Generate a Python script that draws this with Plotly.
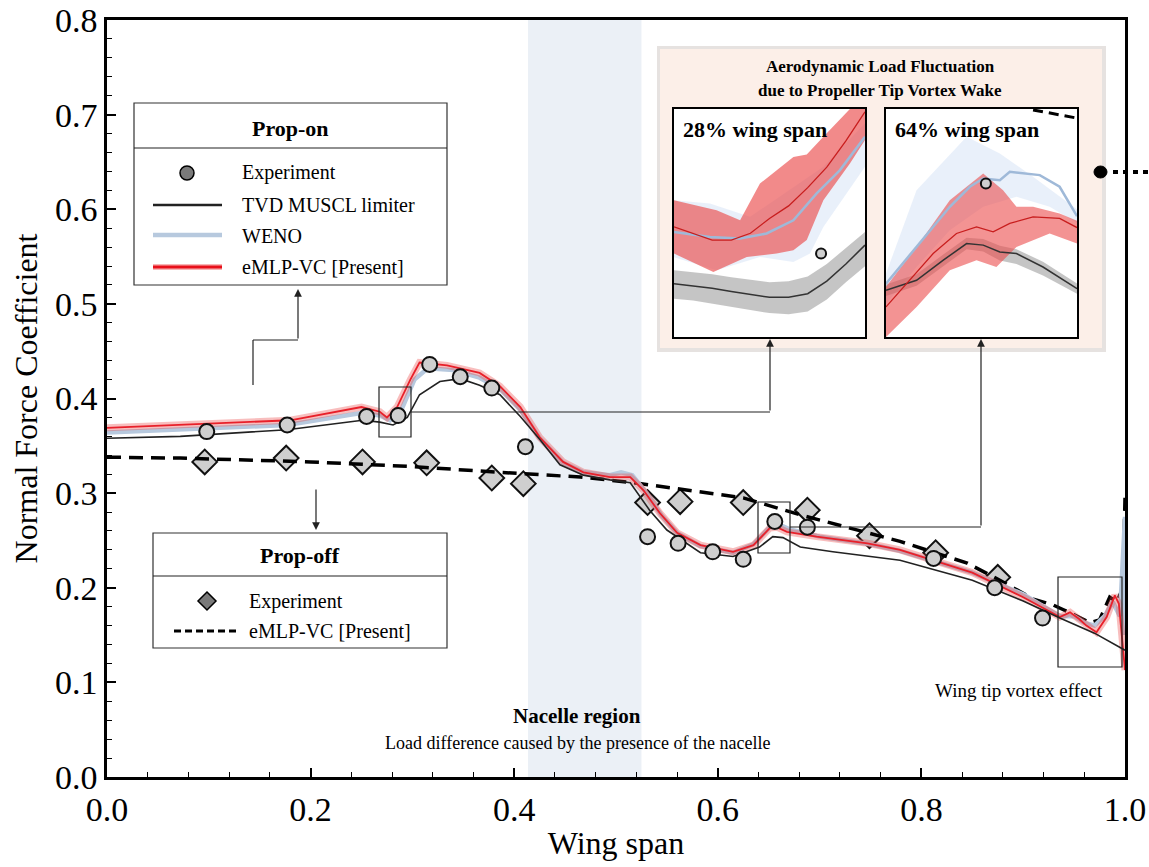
import plotly.graph_objects as go

# ---------------- data ----------------
# Prop-on experiment (circles)
on_exp_x = [0.098, 0.177, 0.255, 0.286, 0.317, 0.347, 0.378, 0.411, 0.531, 0.561, 0.595, 0.625, 0.656, 0.688, 0.812, 0.872, 0.919]
on_exp_y = [0.365, 0.372, 0.381, 0.382, 0.436, 0.423, 0.411, 0.349, 0.254, 0.247, 0.238, 0.230, 0.270, 0.264, 0.231, 0.200, 0.168]

# Prop-off experiment (diamonds)
off_exp_x = [0.096, 0.176, 0.251, 0.314, 0.378, 0.409, 0.531, 0.563, 0.625, 0.688, 0.749, 0.814, 0.875]
off_exp_y = [0.333, 0.337, 0.333, 0.332, 0.316, 0.310, 0.290, 0.291, 0.290, 0.282, 0.255, 0.237, 0.211]

# TVD MUSCL limiter
tvd_x = [0.0, 0.072, 0.177, 0.251, 0.268, 0.281, 0.295, 0.307, 0.327, 0.347, 0.366, 0.386, 0.406, 0.425, 0.445,
         0.468, 0.494, 0.514, 0.533, 0.550, 0.583, 0.615, 0.641, 0.654, 0.664, 0.681, 0.713, 0.779, 0.85, 0.90, 0.936, 0.97, 1.0]
tvd_y = [0.358, 0.360, 0.367, 0.377, 0.375, 0.372, 0.380, 0.404, 0.418, 0.421, 0.414, 0.404, 0.381, 0.357, 0.330,
         0.319, 0.314, 0.311, 0.282, 0.261, 0.237, 0.233, 0.243, 0.254, 0.253, 0.243, 0.238, 0.229, 0.208, 0.186, 0.168, 0.152, 0.134]

# WENO
weno_x = [0.0, 0.072, 0.177, 0.251, 0.268, 0.278, 0.290, 0.302, 0.315, 0.340, 0.366, 0.386, 0.406, 0.425, 0.448, 0.468,
          0.494, 0.505, 0.516, 0.530, 0.545, 0.560, 0.583, 0.615, 0.635, 0.651, 0.658, 0.670, 0.700, 0.750, 0.779, 0.85,
          0.90, 0.936, 0.950, 0.960, 0.970, 0.980, 0.988, 0.995, 1.0, 1.0]
weno_y = [0.364, 0.367, 0.372, 0.385, 0.382, 0.377, 0.390, 0.420, 0.432, 0.430, 0.422, 0.410, 0.388, 0.358, 0.332, 0.322,
          0.319, 0.322, 0.319, 0.300, 0.276, 0.258, 0.244, 0.237, 0.246, 0.264, 0.268, 0.262, 0.254, 0.246, 0.239, 0.216,
          0.193, 0.170, 0.170, 0.163, 0.160, 0.170, 0.185, 0.170, 0.275, 0.15]

# eMLP-VC [Present]
emlp_x = [0.0, 0.07, 0.18, 0.25, 0.268, 0.275, 0.285, 0.298, 0.307, 0.334, 0.366, 0.386, 0.406, 0.425, 0.448, 0.468,
          0.494, 0.514, 0.527, 0.543, 0.560, 0.583, 0.615, 0.635, 0.651, 0.658, 0.668, 0.697, 0.747, 0.779, 0.85, 0.90,
          0.936, 0.946, 0.955, 0.962, 0.972, 0.982, 0.990, 0.994, 0.998, 1.0]
emlp_y = [0.369, 0.372, 0.377, 0.391, 0.386, 0.380, 0.391, 0.420, 0.438, 0.435, 0.427, 0.413, 0.391, 0.359, 0.333, 0.322,
          0.317, 0.317, 0.303, 0.279, 0.258, 0.245, 0.238, 0.245, 0.263, 0.264, 0.259, 0.254, 0.247, 0.240, 0.216, 0.190,
          0.169, 0.174, 0.167, 0.160, 0.153, 0.169, 0.192, 0.183, 0.130, 0.113]

# Prop-off eMLP-VC (dashed)
off_x = [0.0, 0.072, 0.20, 0.30, 0.386, 0.465, 0.517, 0.625, 0.681, 0.749, 0.779, 0.845, 0.877, 0.910, 0.929, 0.939,
         0.966, 0.975, 0.985, 0.992, 0.998, 1.0]
off_y = [0.338, 0.337, 0.333, 0.328, 0.322, 0.317, 0.311, 0.295, 0.277, 0.258, 0.249, 0.226, 0.208, 0.188, 0.182, 0.177,
         0.163, 0.166, 0.190, 0.185, 0.200, 0.295]

# Nacelle region span
nacelle = [0.4136, 0.525]

# Inset 1 (28% wing span), normalised inset coordinates
i1_tvd_u = [0, .1, .2, .3, .4, .5, .6, .7, .8, .9, 1.0]
i1_tvd_v = [.234, .225, .214, .200, .186, .174, .174, .190, .245, .320, .403]
i1_tvd_hi = [.293, .285, .275, .262, .250, .240, .245, .265, .320, .390, .461]
i1_tvd_lo = [.168, .160, .148, .132, .118, .105, .100, .112, .165, .240, .310]
i1_red_u = [0, .1, .2, .3, .4, .5, .6, .7, .8, .9, 1.0]
i1_red_v = [.483, .455, .425, .425, .455, .52, .575, .655, .745, .86, .988]
i1_redhi_u = [0, .223, .346, .45, .625, .695, .782, .921, 1.0]
i1_redhi_v = [.60, .556, .512, .673, .79, .80, .878, 1.0, 1.05]
i1_redlo_u = [0, .206, .381, .537, .625, .695, .782, .921, 1.0]
i1_redlo_v = [.366, .285, .351, .366, .381, .425, .60, .761, .864]
i1_blu_u = [0, .188, .346, .485, .625, .747, .869, 1.0]
i1_blu_v = [.461, .439, .432, .454, .512, .63, .732, .878]
i1_bluhi_u = [0, .188, .398, .625, .782, 1.0]
i1_bluhi_v = [.60, .585, .527, .659, .747, .937]
i1_blulo_u = [0, .223, .45, .625, .712, .782, 1.0]
i1_blulo_v = [.35, .293, .351, .329, .366, .483, .747]
i1_exp = [.77, .366]

# Inset 2 (64% wing span)
i2_tvd_u = [0, .160, .300, .422, .509, .596, .683, .822, 1.0]
i2_tvd_v = [.205, .249, .337, .41, .403, .373, .366, .307, .212]
i2_tvd_hi = [.23, .275, .362, .435, .43, .40, .385, .33, .235]
i2_tvd_lo = [.18, .225, .312, .385, .375, .335, .32, .27, .19]
i2_blu_u = [0, .160, .334, .439, .509, .596, .648, .805, .909, 1.0]
i2_blu_v = [.234, .395, .571, .659, .695, .688, .725, .71, .659, .53]
i2_bluhi_u = [0, .160, .422, .596, .770, 1.0]
i2_bluhi_v = [.278, .644, .878, .805, .703, .56]
i2_blulo_u = [0, .160, .334, .509, .683, .857, 1.0]
i2_blulo_v = [.146, .307, .468, .571, .615, .571, .50]
i2_red_u = [0, .125, .247, .369, .474, .561, .648, .770, .909, 1.0]
i2_red_v = [.132, .249, .366, .454, .483, .461, .498, .527, .52, .48]
i2_redhi_u = [0, .160, .334, .509, .613, .683, .770, .909, 1.0]
i2_redhi_v = [.220, .395, .600, .717, .644, .571, .571, .542, .51]
i2_redlo_u = [0, .160, .334, .474, .578, .683, .857, 1.0]
i2_redlo_v = [0, .132, .293, .337, .307, .395, .454, .41]
i2_exp = [.523, .673]
i2_off_u = [.77, 1.0]
i2_off_v = [.996, .96]

# ---------------- layout helpers ----------------
W, H = 1149, 867
L, R, T, B = 107, 1125, 20, 777          # plot area in window pixels
SERIF = "Liberation Serif, Times New Roman, serif"


def px(x):
    return (x - L) / (R - L)


def py(y):
    return (B - y) / (B - T)


fig = go.Figure()

# ---- main plot traces ----
fig.add_trace(go.Scatter(x=off_exp_x, y=off_exp_y, mode="markers",
                         marker=dict(symbol="diamond", size=19, color="#cfcfcf", line=dict(color="#111", width=2)),
                         showlegend=False))
fig.add_trace(go.Scatter(x=off_x, y=off_y, mode="lines",
                         line=dict(color="black", width=3.5, dash="14px,8px"), showlegend=False))
fig.add_trace(go.Scatter(x=weno_x, y=weno_y, mode="lines", line=dict(color="#b7c9de", width=4.5), showlegend=False))
fig.add_trace(go.Scatter(x=emlp_x, y=emlp_y, mode="lines", line=dict(color="rgba(235,70,70,0.35)", width=7),
                         showlegend=False))
fig.add_trace(go.Scatter(x=emlp_x, y=emlp_y, mode="lines", line=dict(color="#e8202a", width=1.8), showlegend=False))
fig.add_trace(go.Scatter(x=tvd_x, y=tvd_y, mode="lines", line=dict(color="#222", width=1.6), showlegend=False))
fig.add_trace(go.Scatter(x=on_exp_x, y=on_exp_y, mode="markers",
                         marker=dict(symbol="circle", size=15, color="#cfcfcf", line=dict(color="#111", width=2)),
                         showlegend=False))


# ---- insets ----
def band(fig, ux, uy, lx, ly, color, xa, ya):
    fig.add_trace(go.Scatter(x=list(ux) + list(lx)[::-1], y=list(uy) + list(ly)[::-1], mode="lines",
                             fill="toself", fillcolor=color, line=dict(width=0), xaxis=xa, yaxis=ya,
                             showlegend=False, hoverinfo="skip"))


# inset 1
band(fig, i1_bluhi_u, i1_bluhi_v, i1_blulo_u, i1_blulo_v, "rgba(215,228,245,0.55)", "x2", "y2")
band(fig, i1_tvd_u, i1_tvd_hi, i1_tvd_u, i1_tvd_lo, "rgba(140,140,140,0.5)", "x2", "y2")
band(fig, i1_redhi_u, i1_redhi_v, i1_redlo_u, i1_redlo_v, "rgba(235,75,75,0.65)", "x2", "y2")
fig.add_trace(go.Scatter(x=i1_tvd_u, y=i1_tvd_v, mode="lines", line=dict(color="#333", width=1.5),
                         xaxis="x2", yaxis="y2", showlegend=False))
fig.add_trace(go.Scatter(x=i1_blu_u, y=i1_blu_v, mode="lines", line=dict(color="#9fb9d8", width=2.5),
                         xaxis="x2", yaxis="y2", showlegend=False))
fig.add_trace(go.Scatter(x=i1_red_u, y=i1_red_v, mode="lines", line=dict(color="#c81e1e", width=1.3),
                         xaxis="x2", yaxis="y2", showlegend=False))
fig.add_trace(go.Scatter(x=[i1_exp[0]], y=[i1_exp[1]], mode="markers",
                         marker=dict(size=10, color="#cfcfcf", line=dict(color="#111", width=2)),
                         xaxis="x2", yaxis="y2", showlegend=False))

# inset 2
band(fig, i2_bluhi_u, i2_bluhi_v, i2_blulo_u, i2_blulo_v, "rgba(215,228,245,0.55)", "x3", "y3")
band(fig, i2_tvd_u, i2_tvd_hi, i2_tvd_u, i2_tvd_lo, "rgba(140,140,140,0.5)", "x3", "y3")
band(fig, i2_redhi_u, i2_redhi_v, i2_redlo_u, i2_redlo_v, "rgba(235,75,75,0.6)", "x3", "y3")
fig.add_trace(go.Scatter(x=i2_tvd_u, y=i2_tvd_v, mode="lines", line=dict(color="#333", width=1.5),
                         xaxis="x3", yaxis="y3", showlegend=False))
fig.add_trace(go.Scatter(x=i2_blu_u, y=i2_blu_v, mode="lines", line=dict(color="#9fb9d8", width=2.5),
                         xaxis="x3", yaxis="y3", showlegend=False))
fig.add_trace(go.Scatter(x=i2_red_u, y=i2_red_v, mode="lines", line=dict(color="#c81e1e", width=1.3),
                         xaxis="x3", yaxis="y3", showlegend=False))
fig.add_trace(go.Scatter(x=i2_off_u, y=i2_off_v, mode="lines", line=dict(color="black", width=3, dash="10px,6px"),
                         xaxis="x3", yaxis="y3", showlegend=False))
fig.add_trace(go.Scatter(x=[i2_exp[0]], y=[i2_exp[1]], mode="markers",
                         marker=dict(size=10, color="#cfcfcf", line=dict(color="#111", width=2)),
                         xaxis="x3", yaxis="y3", showlegend=False))

# ---------------- shapes ----------------
shapes = []
# nacelle band
shapes.append(dict(type="rect", xref="x", yref="paper", x0=nacelle[0], x1=nacelle[1], y0=0, y1=1,
                   fillcolor="#ebf0f6", line=dict(width=0), layer="below"))
# big inset panel (shadow + fill)
shapes.append(dict(type="rect", xref="paper", yref="paper", x0=px(657), x1=px(1106), y0=py(352), y1=py(46),
                   fillcolor="#e6e2e0", line=dict(width=0), layer="below"))
shapes.append(dict(type="rect", xref="paper", yref="paper", x0=px(660), x1=px(1102), y0=py(348), y1=py(49),
                   fillcolor="#fcefe8", line=dict(width=0), layer="below"))
# zoom rectangles on main plot
for (a, b, c, d) in [(379, 437, 411, 387), (758, 553, 790, 502), (1058, 667, 1122, 577)]:
    shapes.append(dict(type="rect", xref="paper", yref="paper", x0=px(a), x1=px(c), y0=py(b), y1=py(d),
                       line=dict(color="#222", width=1.2)))


def seg(x0, y0, x1, y1, w=1.2):
    shapes.append(dict(type="line", xref="paper", yref="paper", x0=px(x0), y0=py(y0), x1=px(x1), y1=py(y1),
                       line=dict(color="#222", width=w)))


# connector lines
seg(411, 412, 770, 412)
seg(790, 527, 981, 527)
seg(253, 385, 253, 340)
seg(253, 340, 298, 340)

# legend boxes
shapes.append(dict(type="rect", xref="paper", yref="paper", x0=px(134), x1=px(447), y0=py(285), y1=py(103),
                   fillcolor="white", line=dict(color="#333", width=1.2)))
seg(134, 148, 447, 148)
shapes.append(dict(type="rect", xref="paper", yref="paper", x0=px(153), x1=px(447), y0=py(648), y1=py(533),
                   fillcolor="white", line=dict(color="#333", width=1.2)))
seg(153, 576, 447, 576)
# legend samples (prop-on)
shapes.append(dict(type="circle", xref="paper", yref="paper", x0=px(180), x1=px(194), y0=py(180), y1=py(166),
                   fillcolor="#7a7a7a", line=dict(color="black", width=1.5)))
shapes.append(dict(type="line", xref="paper", yref="paper", x0=px(153), x1=px(222), y0=py(205), y1=py(205),
                   line=dict(color="#222", width=2.5)))
shapes.append(dict(type="line", xref="paper", yref="paper", x0=px(153), x1=px(222), y0=py(235), y1=py(235),
                   line=dict(color="#b7c9de", width=4.5)))
shapes.append(dict(type="line", xref="paper", yref="paper", x0=px(153), x1=px(222), y0=py(267), y1=py(267),
                   line=dict(color="rgba(235,70,70,0.4)", width=6)))
shapes.append(dict(type="line", xref="paper", yref="paper", x0=px(153), x1=px(222), y0=py(267), y1=py(267),
                   line=dict(color="#e8101a", width=3)))
# legend samples (prop-off)
cx, cy, h = 207, 601, 9
shapes.append(dict(type="path", xref="paper", yref="paper",
                   path=f"M {px(cx)},{py(cy - h)} L {px(cx + h)},{py(cy)} L {px(cx)},{py(cy + h)} L {px(cx - h)},{py(cy)} Z",
                   fillcolor="#7a7a7a", line=dict(color="black", width=1.5)))
shapes.append(dict(type="line", xref="paper", yref="paper", x0=px(174), x1=px(238), y0=py(631), y1=py(631),
                   line=dict(color="black", width=3, dash="7px,4px")))
# right-side dot + dotted line
shapes.append(dict(type="circle", xref="paper", yref="paper", x0=px(1094), x1=px(1107), y0=py(178), y1=py(166),
                   fillcolor="black", line=dict(color="black", width=1)))
shapes.append(dict(type="line", xref="paper", yref="paper", x0=px(1113), x1=px(1149), y0=py(172), y1=py(172),
                   line=dict(color="black", width=4, dash="5px,5px")))

# ---------------- annotations ----------------
ann = []


def txt(x, y, s, size, bold=False, xanchor="center"):
    ann.append(dict(xref="paper", yref="paper", x=px(x), y=py(y), text=(f"<b>{s}</b>" if bold else s),
                    showarrow=False, xanchor=xanchor, yanchor="middle",
                    font=dict(family=SERIF, size=size, color="black")))


def arrow(x, y, ax, ay):
    ann.append(dict(xref="paper", yref="paper", x=px(x), y=py(y), ax=ax, ay=ay, axref="pixel", ayref="pixel",
                    text="", showarrow=True, arrowhead=2, arrowsize=1.3, arrowwidth=1.2, arrowcolor="#222"))


txt(290, 128, "Prop-on", 22, bold=True)
txt(240, 173, "Experiment", 20, xanchor="left")
txt(240, 205, "TVD MUSCL limiter", 20, xanchor="left")
txt(240, 236, "WENO", 20, xanchor="left")
txt(240, 267, "eMLP-VC [Present]", 20, xanchor="left")
txt(300, 555, "Prop-off", 22, bold=True)
txt(247, 601, "Experiment", 20, xanchor="left")
txt(247, 631, "eMLP-VC [Present]", 20, xanchor="left")

txt(577, 716, "Nacelle region", 21, bold=True)
txt(577, 743, "Load difference caused by the presence of the nacelle", 18)
txt(1019, 690, "Wing tip vortex effect", 19)

txt(880, 67, "Aerodynamic Load Fluctuation", 17, bold=True)
txt(880, 90, "due to Propeller Tip Vortex Wake", 17, bold=True)
txt(681, 129, "28% wing span", 22, bold=True, xanchor="left")
txt(893, 129, "64% wing span", 22, bold=True, xanchor="left")

arrow(298, 289, 0, 51)
arrow(316, 530, 0, -42)
arrow(770, 339, 0, 73)
arrow(981, 339, 0, 188)

inset_ax = dict(range=[0, 1], showticklabels=False, ticks="", showgrid=False, zeroline=False,
                showline=True, mirror=True, linecolor="black", linewidth=2, fixedrange=True, automargin=False)

fig.update_layout(
    width=W, height=H,
    margin=dict(l=L, r=W - R, t=T, b=H - B, pad=0, autoexpand=False),
    paper_bgcolor="white", plot_bgcolor="white",
    showlegend=False,
    font=dict(family=SERIF, color="black"),
    xaxis=dict(domain=[0, 1], range=[0, 1], tickvals=[0, 0.2, 0.4, 0.6, 0.8, 1.0], tickformat=".1f",
               ticks="inside", ticklen=9, tickwidth=1.5, tickcolor="black",
               minor=dict(dtick=0.04, ticks="inside", ticklen=5, tickwidth=1, tickcolor="black"),
               showline=True, mirror=True, linecolor="black", linewidth=2.5,
               showgrid=False, zeroline=False, automargin=False, ticklabeloverflow="allow",
               tickfont=dict(family=SERIF, size=34),
               title=dict(text="Wing span", font=dict(family=SERIF, size=32), standoff=6)),
    yaxis=dict(domain=[0, 1], range=[0, 0.8], tickvals=[0, .1, .2, .3, .4, .5, .6, .7, .8], tickformat=".1f",
               ticks="inside", ticklen=9, tickwidth=1.5, tickcolor="black",
               minor=dict(dtick=0.02, ticks="inside", ticklen=5, tickwidth=1, tickcolor="black"),
               showline=True, mirror=True, linecolor="black", linewidth=2.5,
               showgrid=False, zeroline=False, automargin=False, ticklabeloverflow="allow",
               tickfont=dict(family=SERIF, size=34),
               title=dict(text="Normal Force Coefficient", font=dict(family=SERIF, size=32), standoff=8)),
    xaxis2=dict(domain=[px(674), px(865)], anchor="y2", **inset_ax),
    yaxis2=dict(domain=[py(337), py(109)], anchor="x2", **inset_ax),
    xaxis3=dict(domain=[px(886), px(1077)], anchor="y3", **inset_ax),
    yaxis3=dict(domain=[py(337), py(109)], anchor="x3", **inset_ax),
    shapes=shapes,
    annotations=ann,
)

# remove the browser's default 8px page margin so the figure fills the window exactly
fig.write_html("out.html", config={"displayModeBar": False},
               post_script="document.body.style.margin='0px'; document.body.style.overflow='hidden';")
